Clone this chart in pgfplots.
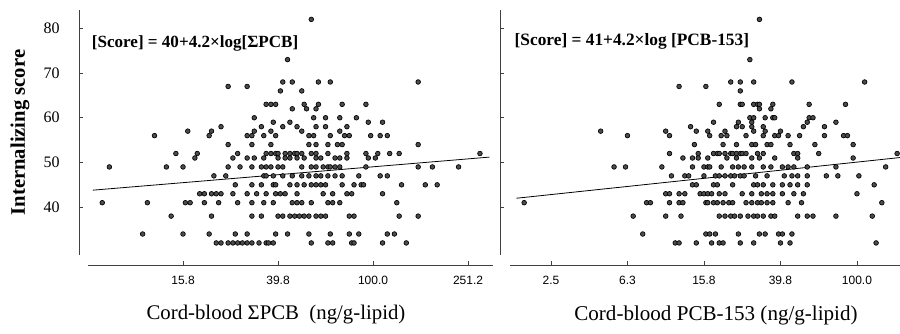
\documentclass[border=0pt]{standalone}
\usepackage{pgfplots}
\pgfplotsset{compat=1.18}
\usepackage{fontspec}
\setmainfont{Liberation Serif}
\newfontfamily\tickfont{Liberation Sans}
\begin{document}
\begin{tikzpicture}
\useasboundingbox (0,0) rectangle (675pt,-249.75pt);
\pgfplotsset{
  panel/.style={
    scale only axis, height=183.75pt,
    ymin=29.3, ymax=84.1,
    axis x line*=bottom, axis y line*=left,
    axis x line shift=7.5pt,
    axis line style={black!75, line width=0.6pt, -},
    tick align=inside, major tick length=3pt,
    tick style={black!75, line width=0.5pt},
    ytick={40,50,60,70,80},
    xticklabel style={font=\tickfont\small, yshift=-5pt},
    clip=false,
  },
  dots/.style={only marks, mark=*, mark size=1.75pt, mark options={fill=black!70, draw=black, line width=0.5pt}},
  reg/.style={black, line width=0.6pt, no marks},
}
% ---------------- left panel ----------------
\begin{axis}[panel, at={(66pt,-191.25pt)}, anchor=south west,
  width=303.75pt, xmin=0.8, xmax=2.505,
  axis y line shift=6.75pt,
  xtick={1.2,1.6,2.0,2.4}, xticklabels={15.8,39.8,100.0,251.2},
  yticklabels={40,50,60,70,80},
  yticklabel style={font=\large, xshift=-11pt},
  every axis y label/.style={at={(axis description cs:0,0.5)}, xshift=-51pt, rotate=90, anchor=center},
  ylabel={\bfseries\fontsize{15.5}{18}\selectfont Internalizing score},
  every axis x label/.style={at={(axis description cs:0.5,0)}, anchor=center, xshift=-10.9pt, yshift=-45pt},
  xlabel={\fontsize{15.6}{18}\selectfont Cord-blood ΣPCB\ \ (ng/g-lipid)},
]
\addplot[dots] table {
x y
1.74 82
1.64 73
1.62 68
1.66 68
1.77 68
1.82 68
2.19 68
1.39 67
1.47 67
1.61 66
1.70 66
1.55 63
1.57 63
1.59 63
1.71 63
1.77 63
1.87 63
1.97 63
1.66 62
1.72 62
1.76 62
1.50 60
1.75 60
1.80 60
1.86 60
1.93 60
1.58 59
1.65 59
1.98 59
2.04 59
1.36 58
1.53 58
1.62 58
1.68 58
1.76 58
1.80 58
1.89 58
1.22 57
1.32 57
1.50 57
1.57 57
1.70 57
1.86 57
1.08 56
1.31 56
1.47 56
1.49 56
1.54 56
1.59 56
1.73 56
1.75 56
1.82 56
1.88 56
1.90 56
1.99 56
2.03 56
2.06 56
1.39 54
1.49 54
1.57 54
1.73 54
1.76 54
1.81 54
1.85 54
1.87 54
2.19 54
1.17 52
1.26 52
1.43 52
1.55 52
1.57 52
1.59 52
1.60 52
1.63 52
1.65 52
1.67 52
1.68 52
1.70 52
1.74 52
1.76 52
1.81 52
1.89 52
1.97 52
2.02 52
2.07 52
2.11 52
2.45 52
1.25 51
1.41 51
1.47 51
1.50 51
1.54 51
1.60 51
1.63 51
1.65 51
1.68 51
1.71 51
1.76 51
1.78 51
1.84 51
1.86 51
1.89 51
1.98 51
2.01 51
0.89 49
1.13 49
1.20 49
1.39 49
1.44 49
1.49 49
1.53 49
1.55 49
1.57 49
1.60 49
1.62 49
1.70 49
1.74 49
1.76 49
1.79 49
1.81 49
1.82 49
1.84 49
1.86 49
1.97 49
2.19 49
2.25 49
2.36 49
1.33 47
1.38 47
1.54 47
1.55 47
1.58 47
1.62 47
1.66 47
1.70 47
1.73 47
1.76 47
1.78 47
1.81 47
1.84 47
1.87 47
1.94 47
2.03 47
2.06 47
1.42 45
1.49 45
1.53 45
1.58 45
1.59 45
1.65 45
1.68 45
1.71 45
1.74 45
1.76 45
1.78 45
1.80 45
1.87 45
1.92 45
1.95 45
1.96 45
2.12 45
2.22 45
2.27 45
1.27 43
1.29 43
1.32 43
1.34 43
1.36 43
1.41 43
1.47 43
1.51 43
1.55 43
1.59 43
1.61 43
1.63 43
1.68 43
1.79 43
1.83 43
1.89 43
1.91 43
2.04 43
0.86 41
1.05 41
1.21 41
1.23 41
1.29 41
1.35 41
1.43 41
1.49 41
1.54 41
1.58 41
1.66 41
1.68 41
1.70 41
1.74 41
1.81 41
1.83 41
1.86 41
2.10 41
1.15 38
1.32 38
1.49 38
1.53 38
1.60 38
1.62 38
1.65 38
1.67 38
1.69 38
1.71 38
1.73 38
1.76 38
1.78 38
1.80 38
1.90 38
1.92 38
2.11 38
2.19 38
1.03 34
1.20 34
1.31 34
1.42 34
1.47 34
1.59 34
1.64 34
1.73 34
1.82 34
1.90 34
1.94 34
2.06 34
2.09 34
1.34 32
1.36 32
1.39 32
1.41 32
1.43 32
1.45 32
1.47 32
1.49 32
1.52 32
1.55 32
1.56 32
1.58 32
1.74 32
1.81 32
1.83 32
1.91 32
1.92 32
2.04 32
2.14 32
};
\addplot[reg] coordinates {(0.82,43.8) (2.49,51.2)};
\node[anchor=west, font=\bfseries\fontsize{12.8}{15}\selectfont] at (axis description cs:-0.002,0.865) {[Score] = 40+4.2×log[ΣPCB]};
\end{axis}
% ---------------- right panel ----------------
\begin{axis}[panel, at={(382.5pt,-191.25pt)}, anchor=south west,
  width=292.5pt, xmin=0.186, xmax=2.225,
  axis y line shift=7.5pt,
  xtick={0.4,0.8,1.2,1.6,2.0}, xticklabels={2.5,6.3,15.8,39.8,100.0},
  yticklabels={},
  every axis x label/.style={at={(axis description cs:0.5,0)}, anchor=center, xshift=8.25pt, yshift=-45pt},
  xlabel={\fontsize{15.8}{18}\selectfont Cord-blood PCB-153 (ng/g-lipid)},
]
\addplot[dots] table {
x y
1.49 82
1.44 73
1.34 68
1.39 68
1.46 68
1.66 68
2.04 68
1.07 67
1.21 67
1.39 66
1.28 63
1.39 63
1.40 63
1.46 63
1.48 63
1.49 63
1.56 63
1.75 63
1.94 63
1.49 62
1.55 62
1.44 60
1.46 60
1.52 60
1.56 60
1.57 60
1.75 60
1.77 60
1.25 59
1.38 59
1.45 59
1.74 59
1.89 59
1.13 58
1.37 58
1.40 58
1.45 58
1.51 58
1.72 58
1.83 58
0.66 57
1.00 57
1.16 57
1.22 57
1.31 57
1.46 57
1.52 57
1.60 57
0.80 56
1.02 56
1.23 56
1.29 56
1.32 56
1.42 56
1.51 56
1.57 56
1.59 56
1.64 56
1.70 56
1.83 56
1.93 56
1.95 56
1.15 54
1.30 54
1.37 54
1.45 54
1.47 54
1.53 54
1.55 54
1.65 54
1.78 54
1.98 54
1.02 52
1.17 52
1.25 52
1.27 52
1.28 52
1.31 52
1.34 52
1.35 52
1.37 52
1.39 52
1.40 52
1.42 52
1.48 52
1.51 52
1.67 52
1.69 52
1.80 52
2.21 52
1.09 51
1.14 51
1.17 51
1.22 51
1.32 51
1.37 51
1.45 51
1.49 51
1.57 51
1.69 51
1.98 51
0.73 49
0.79 49
0.98 49
1.14 49
1.20 49
1.22 49
1.23 49
1.29 49
1.35 49
1.38 49
1.41 49
1.45 49
1.51 49
1.55 49
1.61 49
1.64 49
1.67 49
1.74 49
1.89 49
2.15 49
1.03 47
1.10 47
1.12 47
1.20 47
1.26 47
1.28 47
1.31 47
1.34 47
1.36 47
1.39 47
1.41 47
1.47 47
1.53 47
1.62 47
1.66 47
1.69 47
1.74 47
1.84 47
1.90 47
2.01 47
1.14 45
1.16 45
1.25 45
1.27 45
1.35 45
1.46 45
1.48 45
1.51 45
1.56 45
1.61 45
1.65 45
1.69 45
1.74 45
2.09 45
1.00 43
1.02 43
1.07 43
1.10 43
1.18 43
1.20 43
1.22 43
1.24 43
1.28 43
1.31 43
1.40 43
1.45 43
1.50 43
1.53 43
1.56 43
1.61 43
1.67 43
1.72 43
2.00 43
0.26 41
0.90 41
0.92 41
1.02 41
1.07 41
1.09 41
1.21 41
1.22 41
1.25 41
1.27 41
1.30 41
1.33 41
1.35 41
1.42 41
1.45 41
1.48 41
1.50 41
1.53 41
1.56 41
1.64 41
1.71 41
2.13 41
0.83 38
1.00 38
1.08 38
1.28 38
1.31 38
1.34 38
1.36 38
1.39 38
1.43 38
1.46 38
1.48 38
1.51 38
1.55 38
1.57 38
1.69 38
1.74 38
1.77 38
1.89 38
2.08 38
0.88 34
1.21 34
1.23 34
1.26 34
1.38 34
1.49 34
1.52 34
1.59 34
1.61 34
1.66 34
1.05 32
1.07 32
1.16 32
1.24 32
1.28 32
1.30 32
1.39 32
1.46 32
1.60 32
1.65 32
2.10 32
};
\addplot[reg] coordinates {(0.22,42.0) (2.225,51.1)};
\node[anchor=west, font=\bfseries\fontsize{13}{16}\selectfont] at (axis description cs:0.0,0.87) {[Score] = 41+4.2×log [PCB-153]};
\end{axis}
\end{tikzpicture}
\end{document}
